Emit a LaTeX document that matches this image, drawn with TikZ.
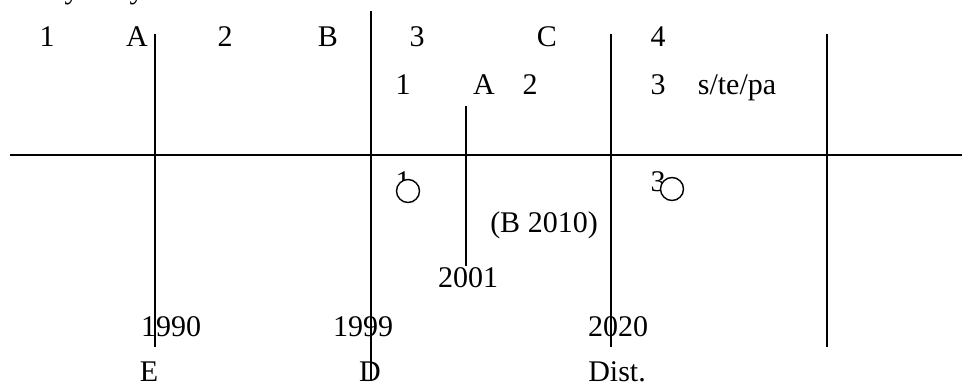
\documentclass[tikz,border=0pt]{standalone}
\usepackage{fontspec}
\setmainfont{Liberation Serif}
\begin{document}
\begin{tikzpicture}[x=1pt,y=-1pt,
  lbl/.style={anchor=base,inner sep=0pt,font=\fontsize{30}{34}\selectfont},
  rule/.style={line width=1.6pt,black},
  mark0/.style={circle,draw,fill=white,line width=1.4pt,minimum size=23pt,inner sep=0pt}]
\useasboundingbox (0,0) rectangle (962,385);
% cut-off top text
\node[lbl] (ty1) at (72,-1) {y};
\node[lbl] (ty2) at (137,-1) {y};
% row 1
\node[lbl] (r1a) at (47,47) {1};
\node[lbl] (r1b) at (137,47) {A};
\node[lbl] (r1c) at (225,47) {2};
\node[lbl] (r1d) at (328,47) {B};
\node[lbl] (r1e) at (417,47) {3};
\node[lbl] (r1f) at (547,47) {C};
\node[lbl] (r1g) at (658,47) {4};
% row 2
\node[lbl] (r2a) at (403,95) {1};
\node[lbl] (r2b) at (484,95) {A};
\node[lbl] (r2c) at (530,95) {2};
\node[lbl] (r2d) at (658,95) {3};
\node[lbl] (r2e) at (737,95) {s/te/pa};
% axis
\coordinate (hl) at (10,155);
\coordinate (hr) at (962,155);
\draw[rule] (hl) -- (hr);
% vertical lines
\coordinate (v1t) at (155,34);  \coordinate (v1b) at (155,347);
\coordinate (v2t) at (371,11);  \coordinate (v2b) at (371,381);
\coordinate (v3t) at (466,106); \coordinate (v3b) at (466,266);
\coordinate (v4t) at (611,34);  \coordinate (v4b) at (611,347);
\coordinate (v5t) at (827,34);  \coordinate (v5b) at (827,347);
% below-axis labels
\node[lbl] (m1) at (403,192) {1};
\node[lbl] (m3) at (658,192) {3};
\node[mark0] (c1) at (408,191) {};
\node[mark0] (c3) at (672,189) {};
\node[lbl] (b2010) at (544,233) {(B 2010)};
\node[lbl] (y2001) at (468,287) {2001};
\node[lbl] (y1990) at (171,336) {1990};
\node[lbl] (y1999) at (363,336) {1999};
\node[lbl] (y2020) at (618,336) {2020};
\node[lbl] (le) at (149,381) {E};
\node[lbl] (ld) at (370,381) {D};
\node[lbl] (ldist) at (617,381) {Dist.};
\draw[rule] (v1t) -- (v1b);
\draw[rule] (v2t) -- (v2b);
\draw[rule] (v3t) -- (v3b);
\draw[rule] (v4t) -- (v4b);
\draw[rule] (v5t) -- (v5b);
\end{tikzpicture}
\end{document}
